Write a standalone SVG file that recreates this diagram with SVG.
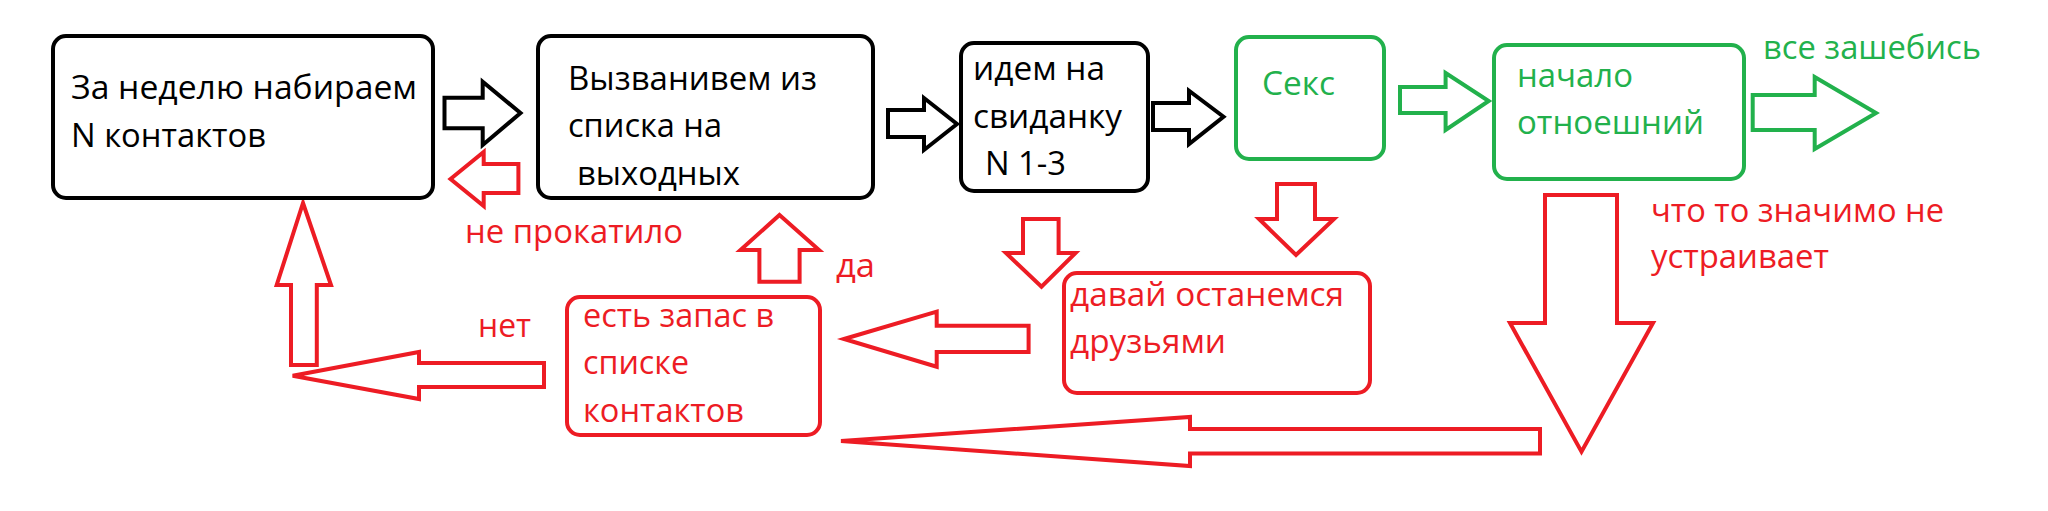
<svg xmlns="http://www.w3.org/2000/svg" width="2048" height="511" viewBox="0 0 2048 511">
<style>
  .box{fill:#fff;stroke-width:4}
  .blk{stroke:#000}
  .red{stroke:#ED1C24}
  .grn{stroke:#22B14C}
  .arr{fill:#fff;stroke-width:4;stroke-linejoin:miter}
  text{font-family:"Open Sans","Noto Sans","DejaVu Sans",sans-serif;font-size:32px}
  .tb{fill:#000}
  .tr{fill:#ED1C24}
  .tg{fill:#22B14C}
</style>
<rect width="2048" height="511" fill="#fff"/>
<g id="connectors">
  <polygon class="arr blk" points="444.5,97.7 482.7,97.7 482.7,81.7 520.5,113 482.7,145 482.7,128.3 444.5,128.3"/>
  <polygon class="arr red" points="450.5,179 483.7,152 483.7,164 518.4,164 518.4,193 483.7,193 483.7,206"/>
  <polygon class="arr blk" points="888,110 924,110 924,98 957,124 924,150 924,137 888,137"/>
  <polygon class="arr blk" points="1153,103 1189,103 1189,90.7 1223.5,116.7 1189,144 1189,130 1153,130"/>
  <polygon class="arr grn" points="1400,87 1445.6,87 1445.6,73 1488.7,101 1445.6,130 1445.6,113 1400,113"/>
  <polygon class="arr grn" points="1752.7,95 1814.7,95 1814.7,77 1876,113 1814.7,149 1814.7,130 1752.7,130"/>
  <polygon class="arr red" points="1023,219 1058.6,219 1058.6,253 1075.5,253 1041.5,286.7 1006,253 1023,253"/>
  <polygon class="arr red" points="1277,184 1315,184 1315,219 1334,219 1296,255 1259,219 1277,219"/>
  <polygon class="arr red" points="1545,195 1617,195 1617,323 1653,323 1581.5,451.7 1510,323 1545,323"/>
  <polygon class="arr red" points="841,441 1190,417 1190,429 1540,429 1540,453.5 1190,453.5 1190,466"/>
  <polygon class="arr red" points="844,339 936.7,311.7 936.7,325.7 1028.6,325.7 1028.6,352 936.7,352 936.7,366.7"/>
  <polygon class="arr red" points="292.7,375.7 419,352 419,363 544,363 544,387 419,387 419,399"/>
  <polygon class="arr red" points="303,203 331,285 316.8,285 316.8,365 291,365 291,285 276.7,285"/>
  <polygon class="arr red" points="779.5,215 819,250 799.6,250 799.6,281.7 759.4,281.7 759.4,250 740.5,250"/>
</g>
<g id="n1">
  <rect class="box blk" x="53" y="36" width="380" height="162" rx="13"/>
  <text class="tb" x="71" y="99" textLength="346" lengthAdjust="spacingAndGlyphs">За неделю набираем</text>
  <text class="tb" x="71" y="147" textLength="195" lengthAdjust="spacingAndGlyphs">N контактов</text>
</g>
<g id="n2">
  <rect class="box blk" x="538" y="36" width="335" height="162" rx="13"/>
  <text class="tb" x="568" y="90" textLength="249" lengthAdjust="spacingAndGlyphs">Вызванивем из</text>
  <text class="tb" x="568" y="137" textLength="154" lengthAdjust="spacingAndGlyphs">списка на</text>
  <text class="tb" x="577" y="185" textLength="163" lengthAdjust="spacingAndGlyphs">выходных</text>
</g>
<g id="n3">
  <rect class="box blk" x="961" y="43" width="187" height="148" rx="13"/>
  <text class="tb" x="973" y="80" textLength="132" lengthAdjust="spacingAndGlyphs">идем на</text>
  <text class="tb" x="973" y="128" textLength="149" lengthAdjust="spacingAndGlyphs">свиданку</text>
  <text class="tb" x="985" y="175" textLength="81" lengthAdjust="spacingAndGlyphs">N 1-3</text>
</g>
<g id="n4">
  <rect class="box grn" x="1236" y="37" width="148" height="122" rx="13"/>
  <text class="tg" x="1262" y="95" textLength="73" lengthAdjust="spacingAndGlyphs">Секс</text>
</g>
<g id="n5">
  <rect class="box grn" x="1494" y="45" width="250" height="134" rx="13"/>
  <text class="tg" x="1517" y="87" textLength="116" lengthAdjust="spacingAndGlyphs">начало</text>
  <text class="tg" x="1517" y="134" textLength="187" lengthAdjust="spacingAndGlyphs">отноешний</text>
</g>
<g id="n6">
  <rect class="box red" x="1064" y="273" width="306" height="120" rx="13"/>
  <text class="tr" x="1070" y="306" textLength="274" lengthAdjust="spacingAndGlyphs">давай останемся</text>
  <text class="tr" x="1070" y="353" textLength="156" lengthAdjust="spacingAndGlyphs">друзьями</text>
</g>
<g id="n7">
  <rect class="box red" x="567" y="297" width="253" height="138" rx="13"/>
  <text class="tr" x="583" y="327" textLength="191" lengthAdjust="spacingAndGlyphs">есть запас в</text>
  <text class="tr" x="583" y="374" textLength="106" lengthAdjust="spacingAndGlyphs">списке</text>
  <text class="tr" x="583" y="422" textLength="161" lengthAdjust="spacingAndGlyphs">контактов</text>
</g>
<g id="labels">
  <text class="tg" x="1763" y="59" textLength="218" lengthAdjust="spacingAndGlyphs">все зашебись</text>
  <text class="tr" x="465" y="243" textLength="218" lengthAdjust="spacingAndGlyphs">не прокатило</text>
  <text class="tr" x="836" y="277" textLength="39" lengthAdjust="spacingAndGlyphs">да</text>
  <text class="tr" x="478" y="337" textLength="53" lengthAdjust="spacingAndGlyphs">нет</text>
  <text class="tr" x="1651" y="222" textLength="293" lengthAdjust="spacingAndGlyphs">что то значимо не</text>
  <text class="tr" x="1651" y="268" textLength="178" lengthAdjust="spacingAndGlyphs">устраивает</text>
</g>
</svg>
